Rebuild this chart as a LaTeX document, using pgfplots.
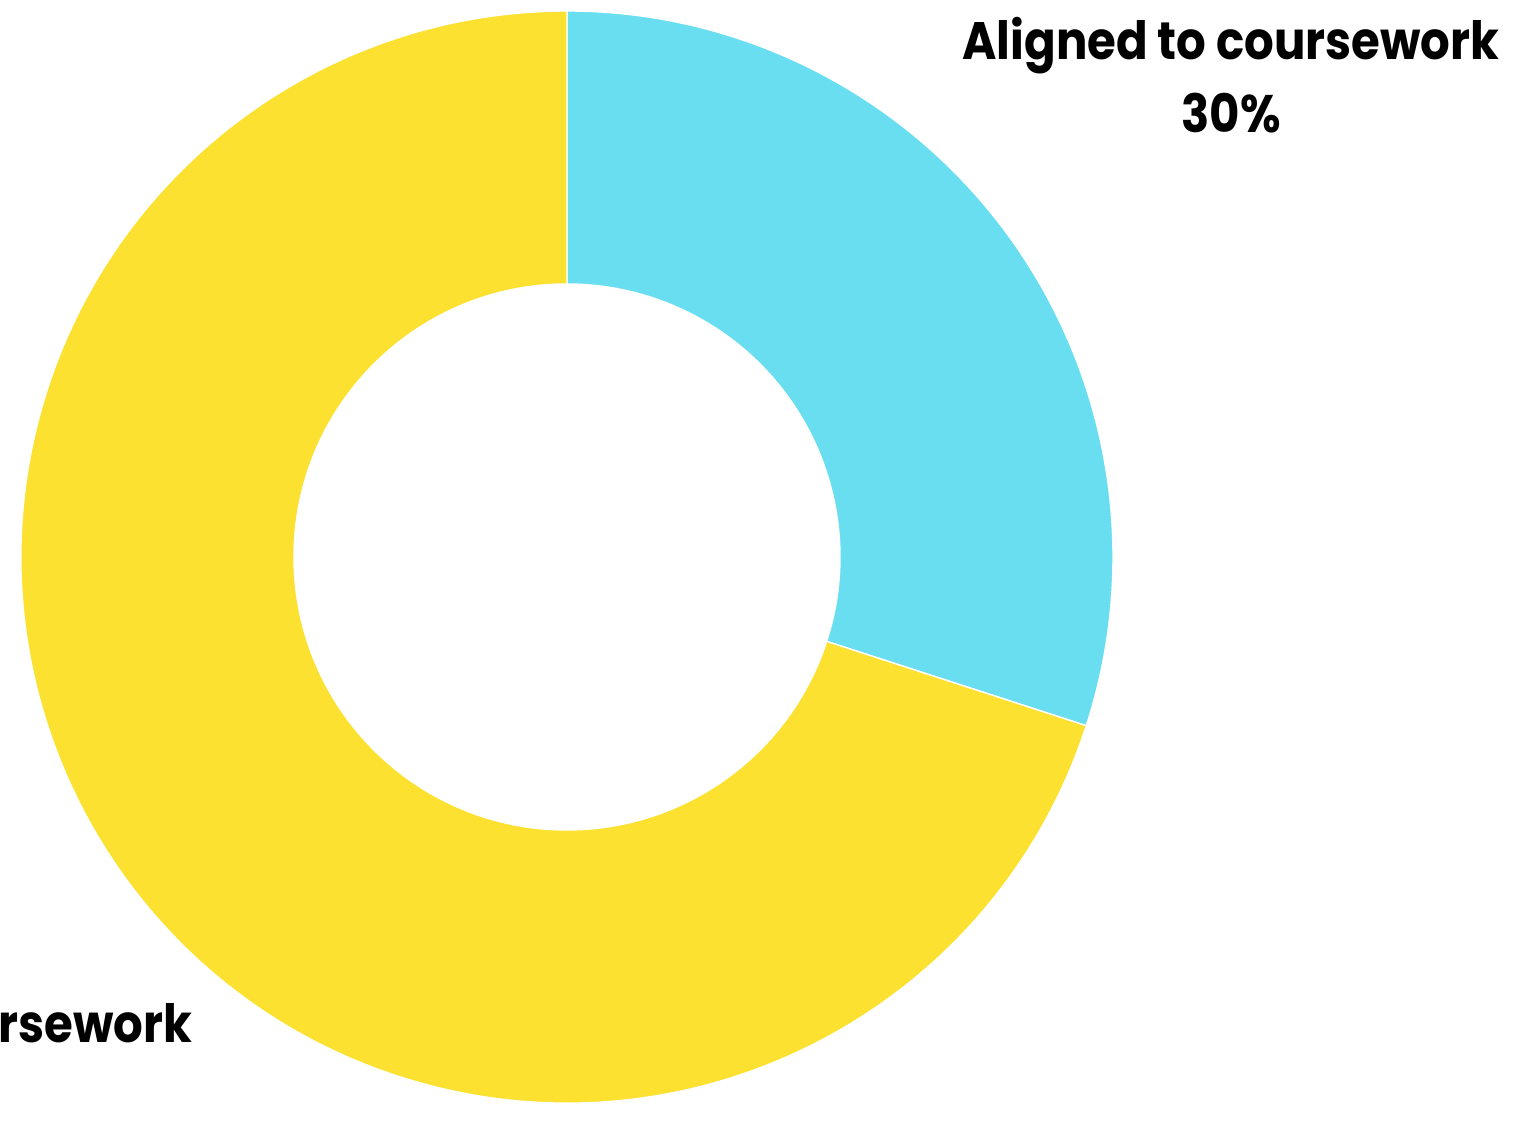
\documentclass[border=0pt]{standalone}
\usepackage{pgfplots}
\pgfplotsset{compat=1.18}
\usepackage{fontspec}
\setmainfont{Poppins}[FakeStretch=0.885]
\definecolor{cyanc}{HTML}{68DEF0}
\definecolor{yellowc}{HTML}{FCE130}
\begin{document}
\begin{tikzpicture}
\path[use as bounding box, clip] (0,0) rectangle (15.13,11.20);
\begin{axis}[at={(0,0)}, anchor=south west, scale only axis,
  width=15.13cm, height=11.2cm, xmin=0, xmax=1513, ymin=0, ymax=1120,
  hide axis, clip=false]
\pgfmathsetmacro{\vA}{30}
\pgfmathsetmacro{\vB}{70}
\pgfmathsetmacro{\aA}{90-3.6*\vA}
\pgfmathsetmacro{\aB}{\aA-3.6*\vB}
\fill[cyanc, draw=white, line width=0.4pt]
  ([shift={(90:5.46cm)}]axis cs:567,563) arc[start angle=90, end angle=\aA, radius=5.46cm]
  -- ([shift={(\aA:2.73cm)}]axis cs:567,563) arc[start angle=\aA, end angle=90, radius=2.73cm] -- cycle;
\fill[yellowc, draw=white, line width=0.4pt]
  ([shift={(\aA:5.46cm)}]axis cs:567,563) arc[start angle=\aA, end angle=\aB, radius=5.46cm]
  -- ([shift={(\aB:2.73cm)}]axis cs:567,563) arc[start angle=\aB, end angle=\aA, radius=2.73cm] -- cycle;
\tikzset{lab/.style={inner sep=0pt, font=\bfseries\fontsize{15}{18}\selectfont}}
\node[lab, anchor=base] at (axis cs:1231,1060) {Aligned to coursework};
\node[lab, anchor=base] at (axis cs:1231,987) {30\%};
\node[lab, anchor=base east] at (axis cs:193,78) {Not aligned to coursework};
\end{axis}
\end{tikzpicture}
\end{document}
